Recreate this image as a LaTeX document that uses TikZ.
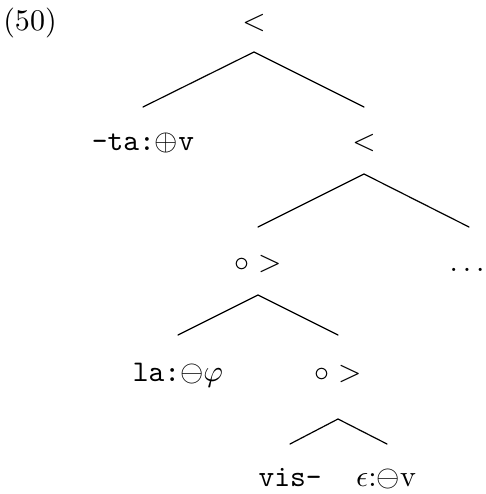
\documentclass[tikz,border=0pt]{standalone}
\begin{document}
\begin{tikzpicture}[x=0.3333pt,y=-0.3333pt,
  lbl/.style={inner sep=0pt, anchor=base},
  branch/.style={line width=0.4pt, line cap=round}]
\useasboundingbox (0,0) rectangle (485,494);
% labels
\node[lbl] (ex) at (30,31) {(50)};
\node[lbl] (r) at (254,31) {$<$};
\node[lbl] (ta) at (143,151) {\texttt{-ta:}$\oplus$\texttt{v}};
\node[lbl] (r2) at (364,151) {$<$};
\node[lbl] (c1) at (258,272) {$\circ>$};
\node[lbl] (dots) at (467,272) {$\ldots$};
\node[lbl] (la) at (178,381) {\texttt{la:}$\ominus\varphi$};
\node[lbl] (c2) at (338,381) {$\circ>$};
\node[lbl] (vis) at (290,486) {\texttt{vis-}};
\node[lbl] (eps) at (386,486) {$\epsilon$:$\ominus$v};
% branch points
\coordinate (a0) at (254,52);
\coordinate (a0l) at (143,107);
\coordinate (a0r) at (364,107);
\coordinate (a1) at (364,174);
\coordinate (a1l) at (258,227);
\coordinate (a1r) at (469,227);
\coordinate (a2) at (258,295);
\coordinate (a2l) at (178,335);
\coordinate (a2r) at (338,335);
\coordinate (a3) at (338,419);
\coordinate (a3l) at (290,444);
\coordinate (a3r) at (387,444);
\draw[branch] (a0l) -- (a0) -- (a0r);
\draw[branch] (a1l) -- (a1) -- (a1r);
\draw[branch] (a2l) -- (a2) -- (a2r);
\draw[branch] (a3l) -- (a3) -- (a3r);
\end{tikzpicture}
\end{document}
